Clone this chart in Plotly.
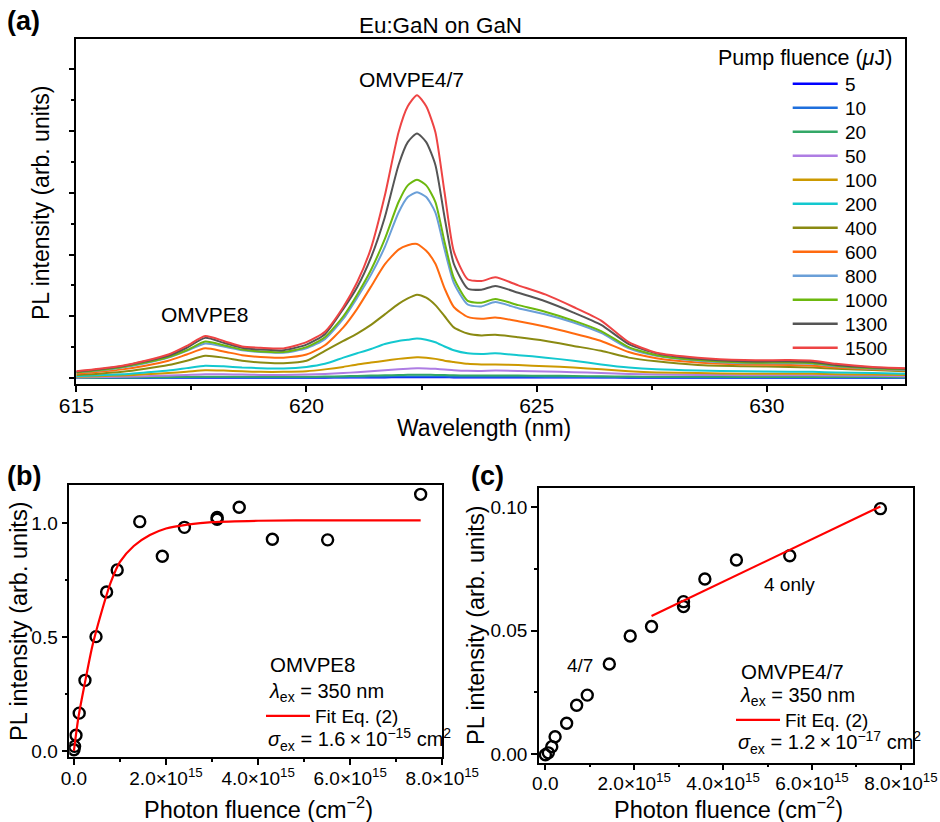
import plotly.graph_objects as go

W, H = 940, 822
FONT = "Arial, Liberation Sans, sans-serif"


def px(x):
    return x / W


def py(y):
    return 1 - y / H


# ---------------- Panel (a) data ----------------
wavelength = [615.0, 615.5, 616.0, 616.5, 617.0, 617.4, 617.8, 618.2, 618.6, 619.0,
              619.5, 620.0, 620.4, 620.8, 621.1, 621.4, 621.7, 622.0, 622.2, 622.4,
              622.6, 622.8, 623.0, 623.2, 623.5, 623.8, 624.1, 624.6, 625.2, 625.8,
              626.4, 627.0, 627.6, 628.5, 629.5, 630.5, 631.0, 631.5, 632.3, 633.0]

pump_fluence = ["5", "10", "20", "50", "100", "200", "400", "600", "800", "1000", "1300", "1500"]
colors = ["#0000FF", "#1E6FDC", "#33A867", "#AE7DE3", "#CC9900", "#13C8CF",
          "#8A8A12", "#FF6A0F", "#6A9FD8", "#6CB80E", "#555555", "#EE4444"]

pl_5 = [0.001, 0.001, 0.002, 0.002, 0.003, 0.004, 0.005, 0.005, 0.005, 0.005,
        0.005, 0.005, 0.006, 0.007, 0.008, 0.009, 0.010, 0.011, 0.012, 0.012,
        0.012, 0.011, 0.011, 0.010, 0.010, 0.010, 0.010, 0.010, 0.009, 0.008,
        0.007, 0.006, 0.005, 0.005, 0.005, 0.004, 0.004, 0.004, 0.004, 0.003]
pl_10 = [0.002, 0.003, 0.004, 0.005, 0.006, 0.008, 0.011, 0.011, 0.010, 0.009,
         0.009, 0.010, 0.012, 0.014, 0.016, 0.019, 0.022, 0.024, 0.025, 0.026,
         0.025, 0.024, 0.023, 0.021, 0.020, 0.019, 0.020, 0.019, 0.018, 0.016,
         0.014, 0.012, 0.011, 0.010, 0.009, 0.009, 0.009, 0.008, 0.008, 0.007]
pl_20 = [0.004, 0.006, 0.008, 0.011, 0.014, 0.017, 0.022, 0.022, 0.020, 0.019,
         0.019, 0.020, 0.024, 0.029, 0.034, 0.039, 0.044, 0.049, 0.052, 0.053,
         0.052, 0.050, 0.047, 0.044, 0.041, 0.040, 0.042, 0.040, 0.037, 0.033,
         0.028, 0.024, 0.021, 0.019, 0.018, 0.017, 0.017, 0.016, 0.015, 0.014]
pl_50 = [0.010, 0.015, 0.020, 0.030, 0.040, 0.050, 0.060, 0.060, 0.055, 0.050,
         0.050, 0.055, 0.065, 0.080, 0.095, 0.110, 0.125, 0.140, 0.150, 0.157,
         0.155, 0.148, 0.138, 0.127, 0.117, 0.115, 0.120, 0.115, 0.105, 0.095,
         0.080, 0.065, 0.055, 0.050, 0.045, 0.045, 0.045, 0.040, 0.035, 0.030]
pl_100 = [0.020, 0.030, 0.040, 0.060, 0.080, 0.100, 0.125, 0.120, 0.110, 0.100,
          0.100, 0.110, 0.140, 0.180, 0.220, 0.250, 0.280, 0.310, 0.325, 0.335,
          0.330, 0.310, 0.280, 0.260, 0.230, 0.220, 0.220, 0.210, 0.190, 0.170,
          0.140, 0.110, 0.090, 0.080, 0.070, 0.070, 0.070, 0.060, 0.055, 0.050]
pl_200 = [0.030, 0.045, 0.060, 0.090, 0.120, 0.160, 0.200, 0.190, 0.170, 0.160,
          0.155, 0.180, 0.230, 0.330, 0.400, 0.470, 0.550, 0.600, 0.620, 0.640,
          0.620, 0.580, 0.510, 0.450, 0.400, 0.390, 0.400, 0.370, 0.330, 0.280,
          0.220, 0.170, 0.140, 0.120, 0.110, 0.100, 0.100, 0.090, 0.080, 0.070]
pl_400 = [0.05, 0.07, 0.10, 0.15, 0.21, 0.28, 0.36, 0.33, 0.28, 0.25,
          0.24, 0.28, 0.44, 0.60, 0.72, 0.86, 1.03, 1.20, 1.29, 1.35,
          1.30, 1.18, 1.00, 0.82, 0.72, 0.69, 0.70, 0.66, 0.60, 0.52,
          0.44, 0.33, 0.27, 0.21, 0.19, 0.18, 0.17, 0.15, 0.13, 0.11]
pl_600 = [0.07, 0.10, 0.14, 0.20, 0.28, 0.38, 0.48, 0.43, 0.37, 0.34,
          0.33, 0.38, 0.53, 0.82, 1.12, 1.48, 1.84, 2.08, 2.15, 2.17,
          2.06, 1.85, 1.45, 1.15, 0.99, 0.96, 0.98, 0.92, 0.83, 0.72,
          0.60, 0.42, 0.32, 0.25, 0.22, 0.21, 0.20, 0.17, 0.14, 0.12]
pl_800 = [0.09, 0.12, 0.17, 0.24, 0.33, 0.44, 0.56, 0.51, 0.45, 0.42,
          0.41, 0.48, 0.63, 0.96, 1.30, 1.67, 2.12, 2.68, 2.93, 3.01,
          2.93, 2.68, 2.08, 1.54, 1.19, 1.16, 1.23, 1.13, 1.03, 0.90,
          0.73, 0.48, 0.36, 0.28, 0.24, 0.24, 0.23, 0.19, 0.15, 0.13]
pl_1000 = [0.09, 0.13, 0.18, 0.25, 0.34, 0.45, 0.59, 0.53, 0.46, 0.43,
           0.42, 0.50, 0.66, 1.00, 1.35, 1.75, 2.25, 2.85, 3.12, 3.21,
           3.12, 2.85, 2.20, 1.62, 1.25, 1.22, 1.28, 1.18, 1.07, 0.93,
           0.76, 0.50, 0.37, 0.29, 0.25, 0.25, 0.24, 0.20, 0.16, 0.14]
pl_1300 = [0.10, 0.14, 0.19, 0.27, 0.36, 0.49, 0.65, 0.57, 0.49, 0.46,
           0.45, 0.54, 0.71, 1.12, 1.47, 1.95, 2.60, 3.45, 3.82, 3.96,
           3.82, 3.45, 2.60, 1.85, 1.45, 1.43, 1.49, 1.38, 1.24, 1.06,
           0.86, 0.55, 0.40, 0.31, 0.27, 0.27, 0.26, 0.21, 0.17, 0.15]
pl_1500 = [0.11, 0.15, 0.20, 0.28, 0.38, 0.52, 0.68, 0.60, 0.51, 0.49,
           0.48, 0.58, 0.75, 1.15, 1.55, 2.10, 2.95, 3.98, 4.40, 4.58,
           4.40, 3.98, 3.00, 2.05, 1.60, 1.57, 1.63, 1.50, 1.35, 1.15,
           0.93, 0.58, 0.41, 0.33, 0.29, 0.29, 0.28, 0.23, 0.18, 0.16]

spectra = [pl_5, pl_10, pl_20, pl_50, pl_100, pl_200, pl_400, pl_600, pl_800,
           pl_1000, pl_1300, pl_1500]

# ---------------- Panel (b) data: OMVPE8 ----------------
fluence_b = [0.1e13, 1.5e13, 4.5e13, 1.15e14, 2.4e14, 4.8e14, 7.1e14, 9.4e14, 1.43e15,
             1.92e15, 2.40e15, 3.11e15, 3.11e15, 3.59e15, 4.31e15, 5.51e15, 7.53e15]
pl_b = [0.005, 0.02, 0.069, 0.166, 0.31, 0.502, 0.698, 0.795, 1.007,
        0.855, 0.982, 1.017, 1.025, 1.07, 0.93, 0.927, 1.127]
fit_b_x = [0, 1e14, 2.4e14, 4e14, 6e14, 8e14, 1e15, 1.3e15, 1.65e15, 2e15,
           2.5e15, 3e15, 4e15, 5.5e15, 7.53e15]
fit_b_y = [0.0, 0.15, 0.30, 0.46, 0.61, 0.74, 0.83, 0.90, 0.948, 0.977,
           0.995, 1.005, 1.011, 1.013, 1.013]

# ---------------- Panel (c) data: OMVPE4/7 ----------------
fluence_c = [0.2e13, 6.8e13, 1.45e14, 2.2e14, 4.8e14, 7.05e14, 9.44e14, 1.44e15,
             1.91e15, 2.39e15, 3.11e15, 3.11e15, 3.59e15, 4.30e15, 5.50e15, 7.54e15]
pl_c = [-0.0003, 0.0005, 0.003, 0.007, 0.0125, 0.0198, 0.0239, 0.0365,
        0.0479, 0.0517, 0.0618, 0.0598, 0.071, 0.0787, 0.0804, 0.0995]
fit_c_x = [2.39e15, 7.54e15]
fit_c_y = [0.056, 0.1004]

x_ticks_bc = [0, 2e15, 4e15, 6e15, 8e15]
x_ticktext_bc = ["0.0", "2.0×10<sup>15</sup>", "4.0×10<sup>15</sup>",
                 "6.0×10<sup>15</sup>", "8.0×10<sup>15</sup>"]

fig = go.Figure()

for name, col, ys in zip(pump_fluence, colors, spectra):
    fig.add_trace(go.Scatter(
        x=wavelength, y=ys, mode="lines", name=name, showlegend=False,
        line=dict(color=col, width=2, shape="spline", smoothing=0.6),
        xaxis="x", yaxis="y"))

fig.add_trace(go.Scatter(
    x=fluence_b, y=pl_b, mode="markers", showlegend=False,
    marker=dict(symbol="circle-open", size=11, color="black", line=dict(width=2.4, color="black")),
    xaxis="x2", yaxis="y2"))
fig.add_trace(go.Scatter(
    x=fit_b_x, y=fit_b_y, mode="lines", name="Fit Eq. (2)",
    line=dict(color="#FF0000", width=2.2, shape="spline", smoothing=0.8),
    xaxis="x2", yaxis="y2", legend="legend2"))

fig.add_trace(go.Scatter(
    x=fluence_c, y=pl_c, mode="markers", showlegend=False,
    marker=dict(symbol="circle-open", size=11, color="black", line=dict(width=2.4, color="black")),
    xaxis="x3", yaxis="y3"))
fig.add_trace(go.Scatter(
    x=fit_c_x, y=fit_c_y, mode="lines", name="Fit Eq. (2)",
    line=dict(color="#FF0000", width=2.2),
    xaxis="x3", yaxis="y3", legend="legend3"))

axis_common = dict(showline=True, linecolor="black", linewidth=1.5, mirror=True,
                   showgrid=False, zeroline=False, ticks="outside", tickcolor="black",
                   tickwidth=1.5, color="black", automargin=False)

leg_common = dict(bgcolor="rgba(0,0,0,0)", borderwidth=0, xanchor="left", yanchor="top",
                  itemwidth=44, tracegroupgap=0, itemclick=False, itemdoubleclick=False)

fig.update_layout(
    width=W, height=H, margin=dict(l=0, r=0, t=0, b=0, autoexpand=False),
    paper_bgcolor="white", plot_bgcolor="white",
    font=dict(family=FONT, color="black", size=20),
    xaxis=dict(axis_common, domain=[px(76.3), px(905)], range=[615, 633.0],
               tickvals=[615, 620, 625, 630], ticklen=6, tickfont=dict(size=21),
               ticklabelstandoff=-4,
               minor=dict(ticks="outside", dtick=2.5, tick0=615, ticklen=4, tickcolor="black"),
               anchor="y"),
    yaxis=dict(axis_common, domain=[py(384), py(39)], range=[-0.097, 5.49],
               tick0=0, dtick=1, ticklen=6, showticklabels=False,
               minor=dict(ticks="outside", dtick=0.5, tick0=0, ticklen=4, tickcolor="black"),
               anchor="x"),
    yaxis4=dict(overlaying="y", side="right", anchor="x", range=[-0.097, 5.49],
                tick0=0, dtick=1, ticks="inside", ticklen=6, tickwidth=1.5, tickcolor="black",
                showticklabels=False, showgrid=False, zeroline=False, showline=False,
                automargin=False,
                minor=dict(ticks="inside", dtick=0.5, tick0=0, ticklen=4, tickcolor="black")),
    xaxis2=dict(axis_common, domain=[px(69.3), px(442.3)], range=[-1e14, 8e15],
                tickvals=x_ticks_bc, ticktext=x_ticktext_bc, ticklen=6, tickfont=dict(size=19),
                ticklabelstandoff=-3,
                minor=dict(ticks="outside", tickvals=[1e15, 3e15, 5e15, 7e15], ticklen=3, tickcolor="black"),
                anchor="y2"),
    yaxis2=dict(axis_common, domain=[py(757.3), py(485)], range=[-0.028, 1.168],
                tickvals=[0, 0.5, 1.0], ticktext=["0.0", "0.5", "1.0"], ticklen=6,
                tickfont=dict(size=19),
                minor=dict(ticks="outside", tickvals=[0.25, 0.75], ticklen=3, tickcolor="black"),
                anchor="x2"),
    xaxis3=dict(axis_common, domain=[px(539), px(913.3)], range=[-1.42e14, 8.28e15],
                tickvals=x_ticks_bc, ticktext=x_ticktext_bc, ticklen=6, tickfont=dict(size=19),
                ticklabelstandoff=-3,
                minor=dict(ticks="outside", tickvals=[1e15, 3e15, 5e15, 7e15], ticklen=3, tickcolor="black"),
                anchor="y3"),
    yaxis3=dict(axis_common, domain=[py(762.7), py(487.7)], range=[-0.0035, 0.108],
                tickvals=[0, 0.05, 0.10], ticktext=["0.00", "0.05", "0.10"], ticklen=6,
                tickfont=dict(size=19),
                minor=dict(ticks="outside", tickvals=[0.025, 0.075], ticklen=3, tickcolor="black"),
                anchor="x3"),
    legend2=dict(leg_common, x=px(261), y=py(697), font=dict(size=19)),
    legend3=dict(leg_common, x=px(731), y=py(701), font=dict(size=19)),
    showlegend=True,
)


def ann(text, x, y, size=20, xanchor="center", yanchor="middle", angle=0):
    fig.add_annotation(text=text, x=px(x), y=py(y), xref="paper", yref="paper",
                       xanchor=xanchor, yanchor=yanchor, showarrow=False,
                       font=dict(size=size, family=FONT, color="black"), textangle=angle)


# Panel (a) legend: key lines and labels
row0, row_step = 83.7, 24.0
ann("Pump fluence (<i>μ</i>J)", 894, 58, size=21.5, xanchor="right")
for i, (name, col) in enumerate(zip(pump_fluence, colors)):
    yrow = row0 + row_step * i
    fig.add_shape(type="line", xref="paper", yref="paper",
                  x0=px(792.7), x1=px(837.7), y0=py(yrow), y1=py(yrow),
                  line=dict(color=col, width=2.5))
    ann(name, 842.5, yrow + 0.5, size=19, xanchor="left")

# Panel (a) texts
ann("<b>(a)</b>", 5, 21, size=27, xanchor="left")
ann("Eu:GaN on GaN", 440.5, 26, size=22.4)
ann("OMVPE4/7", 411, 79.5, size=21)
ann("OMVPE8", 205, 314, size=21)
ann("PL intensity (arb. units)", 41, 203, size=23, angle=-90)
ann("Wavelength (nm)", 484, 428, size=23)

# Panel (b) texts
ann("<b>(b)</b>", 5, 476, size=27, xanchor="left")
ann("PL intensity (arb. units)", 19, 622, size=23.5, angle=-90)
ann("Photon fluence (cm<sup>−2</sup>)", 258, 808, size=23.5)
ann("OMVPE8", 268, 664, size=20.5, xanchor="left")
ann("<i>λ</i><sub>ex</sub> = 350 nm", 267, 692, size=20, xanchor="left")
ann("<i>σ</i><sub>ex</sub> = 1.6\u2009×\u200910<sup>−15</sup> cm<sup>2</sup>", 266, 739, size=20, xanchor="left")

# Panel (c) texts
ann("<b>(c)</b>", 469, 476, size=27, xanchor="left")
ann("PL intensity (arb. units)", 476, 625, size=23.5, angle=-90)
ann("Photon fluence (cm<sup>−2</sup>)", 728, 808, size=23.5)
ann("OMVPE4/7", 739, 671, size=20.5, xanchor="left")
ann("<i>λ</i><sub>ex</sub> = 350 nm", 738, 696, size=20, xanchor="left")
ann("<i>σ</i><sub>ex</sub> = 1.2\u2009×\u200910<sup>−17</sup> cm<sup>2</sup>", 736, 742, size=20, xanchor="left")
ann("4 only", 789, 584, size=19)
ann("4/7", 580, 665, size=19)

fig.write_html("out.html", config={"displayModeBar": False},
               post_script="document.body.style.margin='0px';")
